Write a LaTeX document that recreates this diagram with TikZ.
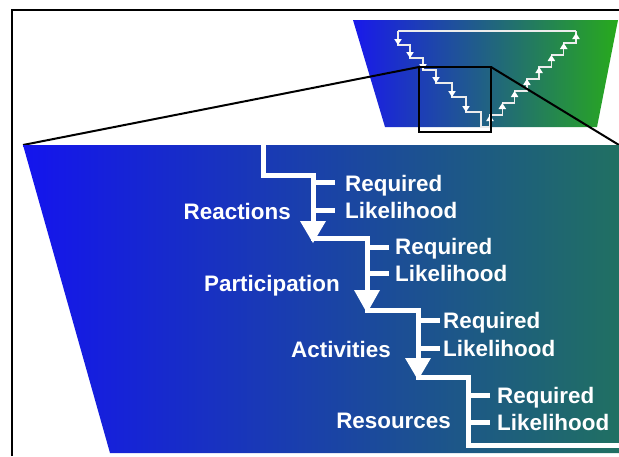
\documentclass[tikz,border=0pt]{standalone}
\usepackage{fontspec}
\setmainfont{Liberation Sans}
\definecolor{bigL}{RGB}{20,20,238}
\definecolor{bigR}{RGB}{32,112,98}
\definecolor{smL}{RGB}{25,25,235}
\definecolor{smR}{RGB}{40,170,28}
\tikzset{
  stair/.style={draw=white, line width=5pt, line join=miter},
  tickln/.style={draw=white, line width=5pt},
  smstair/.style={draw=white!85!gray, line width=1.3pt, line join=miter},
  headw/.style={fill=white},
  lbl/.style={text=white, font=\fontsize{22.4}{26}\selectfont\bfseries, inner sep=0pt},
  frameln/.style={draw=black, line width=2pt},
  zoomln/.style={draw=black, line width=2pt},
}
\begin{document}
\begin{tikzpicture}[x=1pt,y=-1pt]
\useasboundingbox (0,0) rectangle (619,456);
\fill[white] (0,0) rectangle (619,456);

% frame
\draw[frameln] (12,456) -- (12,10) -- (619,10);

% small trapezoid
\shade[left color=smL, right color=smR] (353,20) -- (618,20) -- (597,127) -- (385,127) -- cycle;

% small staircase
\draw[smstair] (398,31) -- (576,31);
\draw[smstair] (398,31) |- (410,45) |- (423,58) |- (436,70) |- (452,83) |- (466,97) |- (481,112) |- (490,127);
\draw[smstair] (490,127) -- (490,115) -| (502.3,103) -| (514.6,91) -| (526.9,79) -| (539.1,67) -| (551.4,55) -| (563.7,43) -| (576,31);
\foreach \x/\y in {398/45, 410/58, 423/70, 436/83, 452/97, 466/112}
  \fill[white] (\x,\y) -- ++(-3.8,-6) -- ++(7.6,0) -- cycle;
\foreach \x/\y in {490/115, 502.3/103, 514.6/91, 526.9/79, 539.1/67, 551.4/55, 563.7/43, 576/33}
  \fill[white] (\x,\y) -- ++(-3.8,6) -- ++(7.6,0) -- cycle;

% zoom box and lines
\draw[zoomln] (419,67) rectangle (491,132);
\coordinate (zl) at (419,67);
\coordinate (zr) at (491,67);
\coordinate (bl) at (23,145);
\coordinate (br) at (619,145);
\draw[zoomln] (bl) -- (zl);
\draw[zoomln] (zr) -- (br);

% big trapezoid
\shade[left color=bigL, right color=bigR] (23,145) -- (619,145) -- (619,453) -- (110,453) -- cycle;

% big staircase
\coordinate (c0) at (263,145);
\coordinate (c1) at (313,175);
\coordinate (c2) at (367,238);
\coordinate (c3) at (418,310);
\coordinate (c4) at (468,377);
\coordinate (c5) at (619,445);
\draw[stair] (c0) |- (c1) |- (c2) |- (c3) |- (c4) |- (c5);

% arrowheads
\fill[headw] (313,243) -- (300,221) -- (326,221) -- cycle;
\fill[headw] (367,313) -- (354,290) -- (380,290) -- cycle;
\fill[headw] (418,380) -- (405,358) -- (431,358) -- cycle;

% ticks
\foreach \x/\ya/\yb in {313/182/210, 367/247/273, 418/320/348, 468/395/422}{
  \draw[tickln] (\x,\ya) -- ++(22,0);
  \draw[tickln] (\x,\yb) -- ++(22,0);
}

% labels
\node[lbl, anchor=base west] (r1) at (345,191) {Required};
\node[lbl, anchor=base west] (l1) at (345,218) {Likelihood};
\node[lbl, anchor=base west] (r2) at (395,254) {Required};
\node[lbl, anchor=base west] (l2) at (395,281) {Likelihood};
\node[lbl, anchor=base west] (r3) at (443,328) {Required};
\node[lbl, anchor=base west] (l3) at (443,356) {Likelihood};
\node[lbl, anchor=base west] (r4) at (497,403) {Required};
\node[lbl, anchor=base west] (l4) at (497,430) {Likelihood};

\node[lbl, anchor=base east] (reac) at (291,219) {Reactions};
\node[lbl, anchor=base east] (part) at (340,291) {Participation};
\node[lbl, anchor=base east] (acti) at (391,357) {Activities};
\node[lbl, anchor=base east] (reso) at (451,428) {Resources};
\end{tikzpicture}
\end{document}
